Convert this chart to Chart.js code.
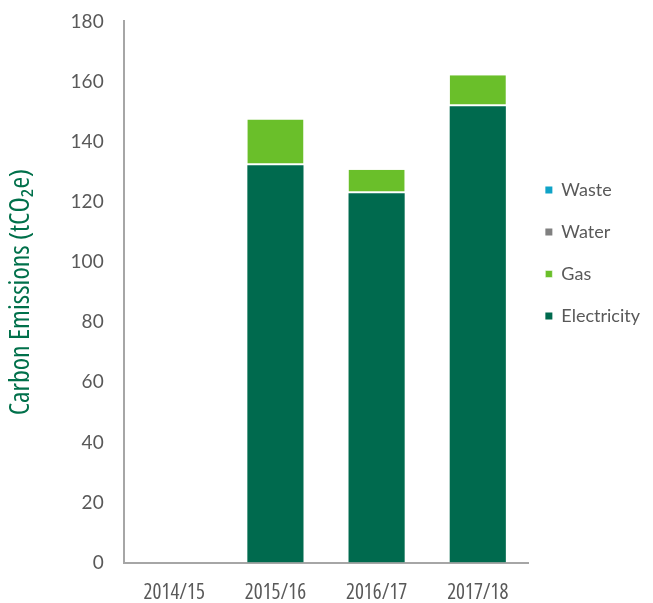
<!DOCTYPE html>
<html>
<head>
<meta charset="utf-8">
<script src="https://cdn.jsdelivr.net/npm/chart.js@4"></script>
<style>
  html, body { margin: 0; padding: 0; background: #fff; }
  #wrap { width: 653px; height: 603px; position: relative; }
</style>
</head>
<body>
<div id="wrap"><canvas id="chart"></canvas></div>
<script>
const years = ["2014/15", "2015/16", "2016/17", "2017/18"];
const electricity = [0, 132.2, 122.9, 151.8];
const gas = [0, 15.2, 7.8, 10.3];
const water = [0, 0, 0, 0];
const waste = [0, 0, 0, 0];
const yTicks = [0, 20, 40, 60, 80, 100, 120, 140, 160, 180];

const GREY = "#595959";
const COND = "'Open Sans', sans-serif";
const LEGEND_SHIFT = 7;

// let the legend overlap the plot a little, as in the original
const legendShift = {
  id: "legendShift",
  beforeLayout(chart) {
    const lg = chart.legend;
    if (lg && !lg._shifted) {
      const fit = lg.fit;
      lg.fit = function () { fit.call(this); this.width -= LEGEND_SHIFT; };
      lg._shifted = true;
    }
  },
  afterLayout(chart) {
    if (chart.legend) chart.legend.left -= LEGEND_SHIFT;
  },
};

const sep = { top: 0, bottom: 2, left: 0, right: 0 };

new Chart(document.getElementById("chart"), {
  type: "bar",
  data: {
    labels: years,
    datasets: [
      { label: "Electricity", data: electricity, backgroundColor: "#006a4e", borderWidth: 0 },
      { label: "Gas", data: gas, backgroundColor: "#6abf2a", borderColor: "#fff", borderWidth: sep, borderSkipped: false },
      { label: "Water", data: water, backgroundColor: "#808080", borderWidth: 0 },
      { label: "Waste", data: waste, backgroundColor: "#0fa3c7", borderWidth: 0 },
    ],
  },
  plugins: [legendShift],
  options: {
    responsive: true,
    maintainAspectRatio: false,
    animation: false,
    layout: { padding: { left: 4, right: 3, top: 0, bottom: -13 } },
    datasets: { bar: { categoryPercentage: 0.555, barPercentage: 1 } },
    scales: {
      x: {
        stacked: true,
        grid: { display: false },
        border: { color: "#a6a6a6", width: 2 },
        ticks: { color: GREY, font: { family: COND, size: 21, weight: "condensed" }, padding: 10 },
      },
      y: {
        stacked: true,
        min: 0,
        max: 180,
        afterBuildTicks: (axis) => { axis.ticks = yTicks.map((v) => ({ value: v })); },
        grid: { display: true, drawOnChartArea: false, drawTicks: true, tickLength: 10, color: "rgba(0,0,0,0)", tickColor: "rgba(0,0,0,0)" },
        border: { color: "#a6a6a6", width: 2 },
        ticks: { color: GREY, font: { family: "Lato, sans-serif", size: 19 }, padding: 10 },
        title: {
          display: true,
          text: "Carbon Emissions (tCO₂e)",
          color: "#00704a",
          font: { family: COND, size: 28, weight: "500 condensed" },
          padding: { top: 0, bottom: 23 },
        },
      },
    },
    plugins: {
      legend: {
        position: "right",
        align: "start",
        reverse: true,
        title: { display: true, text: " ", font: { size: 10 }, padding: { top: 145, bottom: 0 } },
        labels: {
          color: GREY,
          font: { family: "Lato, sans-serif", size: 18 },
          boxWidth: 7,
          boxHeight: 7,
          padding: 24,
        },
      },
      tooltip: { enabled: false },
    },
  },
});
</script>
</body>
</html>
